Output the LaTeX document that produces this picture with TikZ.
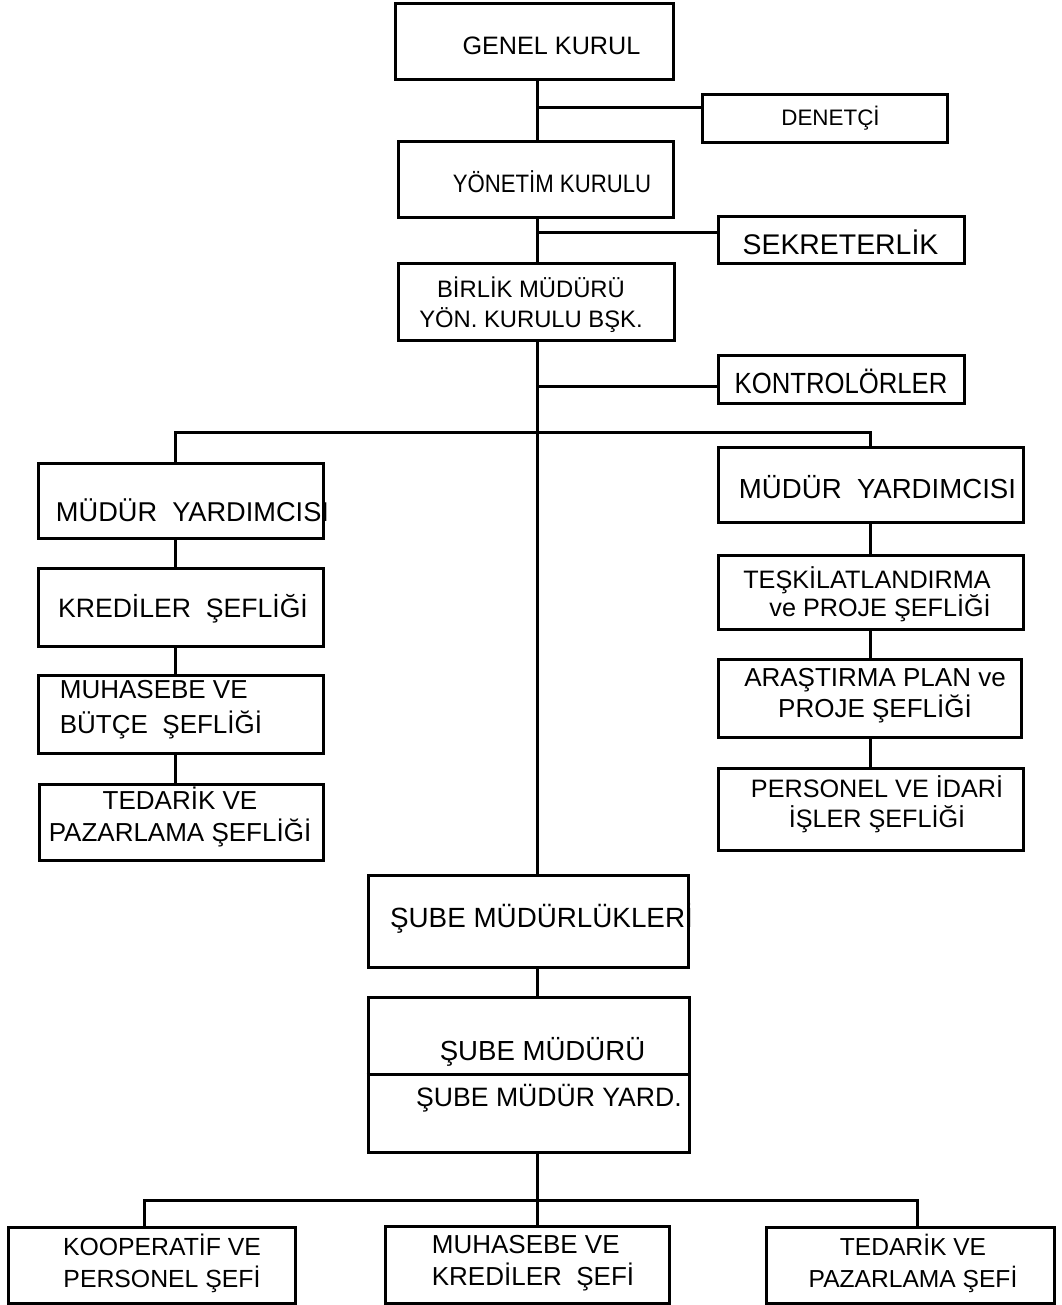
\documentclass[tikz,border=0pt]{standalone}
\usepackage{fontspec}
\setmainfont{Liberation Sans}
\newfontfamily\narrowsf[FakeStretch=0.88]{Liberation Sans}
\usepackage{tikz}
\usetikzlibrary{positioning}

\tikzset{
  orgbox/.style={draw, line width=1.5pt, inner sep=0pt},
  lbl/.style={inner sep=0pt, align=center},
  link/.style={line width=1.5pt},
}

\begin{document}
\begin{tikzpicture}[x=0.5pt,y=-0.5pt]
\useasboundingbox (0,0) rectangle (1061,1305);

% upper chain
\node[orgbox, minimum width=139pt, minimum height=38pt] (genel) at (534,42) {};
\node[orgbox, minimum width=122.5pt, minimum height=24pt] (denetci) at (824.5,119) {};
\node[orgbox, minimum width=137.5pt, minimum height=38pt] (yonetim) at (535.5,180) {};
\node[orgbox, minimum width=123pt, minimum height=23pt] (sekreter) at (841,240) {};
\node[orgbox, minimum width=138pt, minimum height=38.5pt] (birlik) at (536,301.5) {};
\node[orgbox, minimum width=123pt, minimum height=24pt] (kontrol) at (841,379) {};

\node[lbl, font=\fontsize{12.6}{15}\selectfont] (t-genel) at (551.5,46) {GENEL KURUL};
\node[lbl, font=\fontsize{11.2}{14}\selectfont] (t-denetci) at (830.5,118) {DENETÇİ};
\node[lbl, font=\narrowsf\fontsize{12.6}{15}\selectfont] (t-yonetim) at (552,182) {YÖNETİM KURULU};
\node[lbl, font=\fontsize{14.2}{17}\selectfont] (t-sekreter) at (840.5,242) {SEKRETERLİK};
\node[lbl, font=\fontsize{11.9}{15}\selectfont] (t-birlik) at (531,305)
  {BİRLİK MÜDÜRÜ\\YÖN. KURULU BŞK.};
\node[lbl, font=\narrowsf\fontsize{14.6}{17}\selectfont] (t-kontrol) at (841,381.5) {KONTROLÖRLER};

% left column
\node[orgbox, minimum width=142.5pt, minimum height=37.5pt] (myL) at (180.5,500.5) {};
\node[orgbox, minimum width=142.5pt, minimum height=39pt] (kredi) at (180.5,607) {};
\node[orgbox, minimum width=142.5pt, minimum height=39pt] (muhasebe) at (180.5,714) {};
\node[orgbox, minimum width=142pt, minimum height=38pt] (tedarik) at (181,822) {};

\node[lbl, font=\fontsize{13.6}{16}\selectfont] (t-myL) at (192.5,510) {MÜDÜR~~YARDIMCISI};
\node[lbl, font=\fontsize{13.3}{16}\selectfont] (t-kredi) at (183,609) {KREDİLER~~ŞEFLİĞİ};
\node[lbl, align=left, font=\fontsize{13}{17.5}\selectfont] (t-muhasebe) at (161,710)
  {MUHASEBE VE\\BÜTÇE~~ŞEFLİĞİ};
\node[lbl, font=\fontsize{13}{16}\selectfont] (t-tedarik) at (180,817)
  {TEDARİK VE\\PAZARLAMA ŞEFLİĞİ};

% right column
\node[orgbox, minimum width=152.5pt, minimum height=37.5pt] (myR) at (870.5,484.5) {};
\node[orgbox, minimum width=152.5pt, minimum height=37pt] (teskilat) at (870.5,592) {};
\node[orgbox, minimum width=151.5pt, minimum height=39pt] (arastirma) at (869.5,698) {};
\node[orgbox, minimum width=152.5pt, minimum height=41pt] (personel) at (870.5,809) {};

\node[lbl, font=\fontsize{13.8}{16}\selectfont] (t-myR) at (877.5,487.5) {MÜDÜR~~YARDIMCISI};
\node[lbl, align=right, font=\fontsize{12.6}{14}\selectfont] (t-teskilat) at (867,594.5)
  {TEŞKİLATLANDIRMA\\ve PROJE ŞEFLİĞİ};
\node[lbl, font=\fontsize{13}{15.5}\selectfont] (t-arastirma) at (875,695.5)
  {ARAŞTIRMA PLAN ve\\PROJE ŞEFLİĞİ};
\node[lbl, font=\fontsize{12.6}{15}\selectfont] (t-personel) at (877,804)
  {PERSONEL VE İDARİ\\İŞLER ŞEFLİĞİ};

% branches
\node[orgbox, minimum width=160pt, minimum height=46pt] (sube1) at (528,921) {};
\node[orgbox, minimum width=160.5pt, minimum height=77.5pt] (sube2) at (528.5,1074.5) {};
\node[orgbox, minimum width=143.5pt, minimum height=38pt] (kop) at (151.5,1265) {};
\node[orgbox, minimum width=142pt, minimum height=38.5pt] (muh) at (527,1264.5) {};
\node[orgbox, minimum width=144pt, minimum height=38pt] (ted) at (910,1265) {};

\node[lbl, font=\fontsize{13.9}{16}\selectfont] (t-sube1) at (541.5,918.5) {ŞUBE MÜDÜRLÜKLERİ};
\node[lbl, font=\fontsize{13.8}{16}\selectfont] (t-sube2a) at (542.5,1051.5) {ŞUBE MÜDÜRÜ};
\node[lbl, font=\fontsize{13.3}{16}\selectfont] (t-sube2b) at (549,1098.5) {ŞUBE MÜDÜR YARD.};
\node[lbl, font=\fontsize{12.4}{16}\selectfont] (t-kop) at (162,1263)
  {KOOPERATİF VE\\PERSONEL ŞEFİ};
\node[lbl, align=left, font=\fontsize{13}{16}\selectfont] (t-muh) at (533,1263)
  {MUHASEBE VE\\KREDİLER~~ŞEFİ};
\node[lbl, font=\fontsize{12.3}{16}\selectfont] (t-ted) at (913,1263)
  {TEDARİK VE\\PAZARLAMA ŞEFİ};

% connectors
\coordinate (sp) at (537,0);
\coordinate (cl) at (175,0);
\coordinate (cr) at (870,0);
\coordinate (bus) at (537,432);
\coordinate (bl) at (144,1200);
\coordinate (br) at (917,1200);

\draw[link] (genel.south -| sp) -- (yonetim.north -| sp);
\draw[link] (yonetim.south -| sp) -- (birlik.north -| sp);
\draw[link] (birlik.south -| sp) -- (sube1.north -| sp);
\draw[link] (sube1.south -| sp) -- (sube2.north -| sp);
\draw[link] (sube2.south -| sp) -- (muh.north -| sp);
\draw[link] (sube2.west) -- (sube2.east);

\draw[link] ([yshift=5.5pt]denetci.west) -- ([yshift=5.5pt]denetci.west -| sp);
\draw[link] ([yshift=3.5pt]sekreter.west) -- ([yshift=3.5pt]sekreter.west -| sp);
\draw[link] ([yshift=-3.5pt]kontrol.west) -- ([yshift=-3.5pt]kontrol.west -| sp);

\draw[link] (myL.north -| cl) |- (bus) -| (myR.north -| cr);
\foreach \a/\b in {myL/kredi, kredi/muhasebe, muhasebe/tedarik}
  \draw[link] (\a.south -| cl) -- (\b.north -| cl);
\foreach \a/\b in {myR/teskilat, teskilat/arastirma, arastirma/personel}
  \draw[link] (\a.south -| cr) -- (\b.north -| cr);

\draw[link] (kop.north -| bl) |- (br) -- (ted.north -| br);
\end{tikzpicture}
\end{document}
